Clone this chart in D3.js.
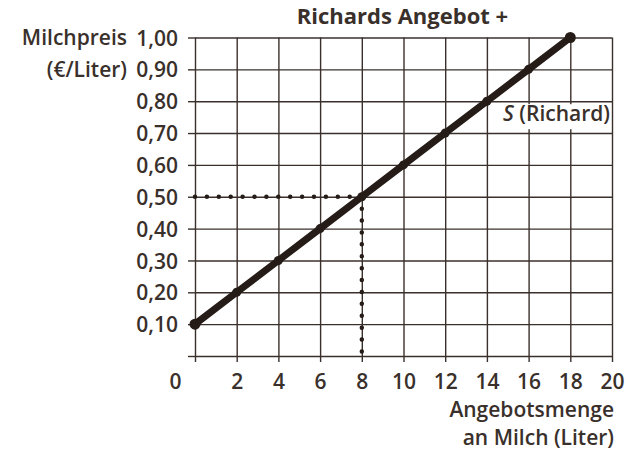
<!DOCTYPE html>
<html>
<head>
<meta charset="utf-8">
<script src="https://cdn.jsdelivr.net/npm/d3@7"></script>
<style>
    body { margin: 0; background: #fff; }
    text { font-family: "Open Sans", sans-serif; fill: #3a302b; font-weight: 600; }
</style>
</head>
<body>
<div id="chart"></div>
<script>
// values
var mengen = [0, 2, 4, 6, 8, 10, 12, 14, 16, 18];
var preise = [0.10, 0.20, 0.30, 0.40, 0.50, 0.60, 0.70, 0.80, 0.90, 1.00];
var xTicks = [0, 2, 4, 6, 8, 10, 12, 14, 16, 18, 20];
var yTicks = [0.10, 0.20, 0.30, 0.40, 0.50, 0.60, 0.70, 0.80, 0.90, 1.00];
var gleichgewicht = { menge: 8, preis: 0.50 };

var W = 626, H = 451;
var margin = { top: 37.5, right: 14, bottom: 95, left: 195 },
    width = W - margin.left - margin.right,
    height = H - margin.top - margin.bottom;

var ink = '#3a302b', lineInk = '#251c17';
var fs = '21px';

var x = d3.scaleLinear().domain([0, 20]).range([0, width]);
var y = d3.scaleLinear().domain([0, 1]).range([height, 0]);

var svg = d3.select('#chart').append('svg')
    .attr('width', W)
    .attr('height', H)
    .append('g')
    .attr('transform', `translate(${margin.left},${margin.top})`);

// grid
svg.append('g')
    .call(d3.axisLeft(y).tickValues([0].concat(yTicks)).tickSize(-width).tickFormat(''))
    .call(g => g.select('.domain').remove())
    .selectAll('line').attr('stroke', ink).attr('stroke-width', 1.4);

svg.append('g')
    .call(d3.axisTop(x).tickValues(xTicks).tickSize(-height).tickFormat(''))
    .call(g => g.select('.domain').remove())
    .selectAll('line').attr('stroke', ink).attr('stroke-width', 1.4);

// y axis ticks + labels
var yAxis = svg.append('g')
    .call(d3.axisLeft(y).tickValues([0].concat(yTicks)).tickSize(7).tickPadding(10)
        .tickFormat(d => d === 0 ? '' : d3.format('.2f')(d).replace('.', ',')));
yAxis.select('.domain').remove();
yAxis.selectAll('line').attr('stroke', ink).attr('stroke-width', 1.4);
yAxis.selectAll('text').style('font-size', fs).attr('fill', ink).attr('dy', '0.36em');

// x axis ticks + labels
var xAxis = svg.append('g')
    .attr('transform', `translate(0,${height})`)
    .call(d3.axisBottom(x).tickValues(xTicks).tickSize(6).tickPadding(12)
        .tickFormat(d3.format('d')));
xAxis.select('.domain').remove();
xAxis.selectAll('line').attr('stroke', ink).attr('stroke-width', 1.4);
xAxis.selectAll('text').style('font-size', fs).attr('fill', ink);
xAxis.selectAll('.tick').filter(d => d === 0).select('text').attr('x', -20);

// dotted guide lines at the marked point
var guide = d3.line().x(d => x(d[0])).y(d => y(d[1]));
svg.append('path')
    .attr('d', guide([[0, gleichgewicht.preis], [gleichgewicht.menge, gleichgewicht.preis]]))
    .attr('fill', 'none').attr('stroke', lineInk).attr('stroke-width', 4.5)
    .attr('stroke-linecap', 'round').attr('stroke-dasharray', '0 11.9');
svg.append('path')
    .attr('d', guide([[gleichgewicht.menge, gleichgewicht.preis], [gleichgewicht.menge, -0.015]]))
    .attr('fill', 'none').attr('stroke', lineInk).attr('stroke-width', 4.5)
    .attr('stroke-linecap', 'round').attr('stroke-dasharray', '0 11.9');

// supply line
var data = mengen.map((m, i) => ({ menge: m, preis: preise[i] }));
svg.append('path')
    .datum(data)
    .attr('d', d3.line().x(d => x(d.menge)).y(d => y(d.preis)))
    .attr('fill', 'none').attr('stroke', lineInk).attr('stroke-width', 7);

svg.selectAll('circle.pt')
    .data(data)
    .enter().append('circle')
    .attr('class', 'pt')
    .attr('cx', d => x(d.menge))
    .attr('cy', d => y(d.preis))
    .attr('r', (d, i) => (i === 0 || i === data.length - 1) ? 5.5 : 4.5)
    .attr('fill', lineInk);

// S (Richard) label with white knock-out
var lab = svg.append('g').attr('transform', `translate(${x(20) - 2},${y(0.8) + 20})`);
lab.append('rect').attr('x', -117).attr('y', -17).attr('width', 116).attr('height', 25).attr('fill', '#fff');
var lt = lab.append('text').attr('text-anchor', 'end').style('font-size', fs);
lt.append('tspan').style('font-style', 'italic').text('S');
lt.append('tspan').text(' (Richard)');

// titles
svg.append('text')
    .attr('x', x(9.95)).attr('y', -14)
    .attr('text-anchor', 'middle')
    .style('font-size', '22px').style('font-weight', 'bold')
    .text('Richards Angebot +');

svg.append('text')
    .attr('x', -68).attr('y', y(1) + 7.5)
    .attr('text-anchor', 'end').style('font-size', fs)
    .text('Milchpreis');
svg.append('text')
    .attr('x', -68).attr('y', y(0.9) + 7.5)
    .attr('text-anchor', 'end').style('font-size', fs)
    .text('(€/Liter)');

svg.append('text')
    .attr('x', width + 2).attr('y', height + 61)
    .attr('text-anchor', 'end').style('font-size', fs)
    .text('Angebotsmenge');
svg.append('text')
    .attr('x', width + 2).attr('y', height + 89)
    .attr('text-anchor', 'end').style('font-size', fs)
    .text('an Milch (Liter)');
</script>
</body>
</html>
